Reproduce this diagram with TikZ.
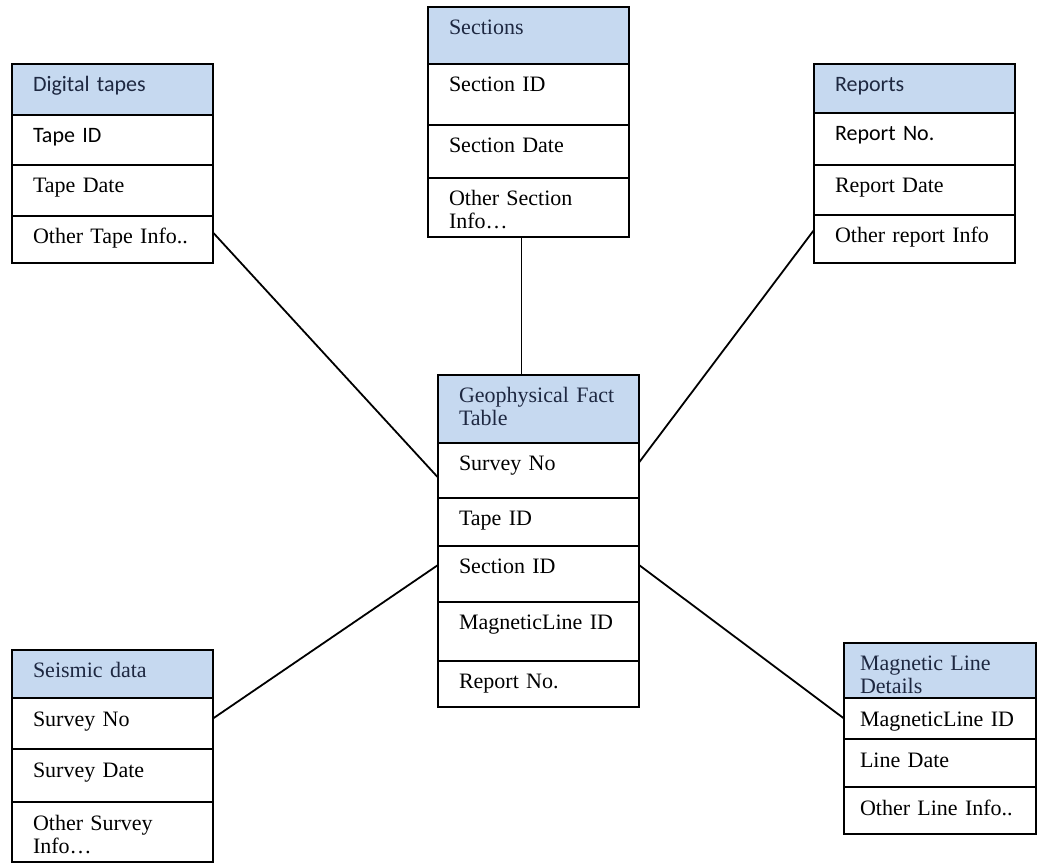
\documentclass[tikz,border=0pt]{standalone}
\usepackage{fontspec}
\setmainfont{Liberation Serif}
\newfontfamily\calib{Carlito}
\usetikzlibrary{positioning,calc}
\definecolor{cHead}{RGB}{198,217,240}
\definecolor{cHeadTxt}{RGB}{30,40,65}

\begin{document}
\begin{tikzpicture}[x=0.5pt,y=-0.5pt,
   node distance=0pt,
   cell/.style={draw,line width=0.9pt,outer sep=0pt,anchor=north west,inner xsep=10.5pt,inner ysep=0pt,
     text width=79.5pt,align=left,text height=14pt,font=\fontsize{11}{11.5}\selectfont},
   head/.style={cell,fill=cHead,text=cHeadTxt},
   sans/.style={font=\fontsize{11}{11.5}\calib},
   narrow/.style={inner xsep=8pt,text width=80pt},
   link/.style={line width=0.9pt}]
  \useasboundingbox (0,0) rectangle (1039,865);
  % digital tapes
  \node[head,sans,text depth=11.5pt] (dt0) at (12,64) {Digital tapes};
  \node[cell,sans,text depth=11pt,below=of dt0] (dt1) {Tape ID};
  \node[cell,text depth=11.5pt,below=of dt1] (dt2) {Tape Date};
  \node[cell,text depth=9.5pt,below=of dt2] (dt3) {Other Tape Info..};
  % sections
  \node[head,text depth=14.5pt] (s0) at (428,7) {Sections};
  \node[cell,text depth=16.5pt,below=of s0] (s1) {Section ID};
  \node[cell,text depth=12.5pt,below=of s1] (s2) {Section Date};
  \node[cell,text depth=15.5pt,below=of s2] (s3) {Other Section\\Info\ldots};
  % reports
  \node[head,sans,text depth=10.5pt] (r0) at (814,64) {Reports};
  \node[cell,sans,text depth=12pt,below=of r0] (r1) {Report No.};
  \node[cell,text depth=11pt,below=of r1] (r2) {Report Date};
  \node[cell,text depth=10pt,below=of r2] (r3) {Other report Info};
  % fact table
  \node[head,text depth=20pt] (f0) at (438,375) {Geophysical Fact\\Table};
  \node[cell,text depth=13.5pt,below=of f0] (f1) {Survey No};
  \node[cell,text depth=10pt,below=of f1] (f2) {Tape ID};
  \node[cell,text depth=14pt,below=of f2] (f3) {Section ID};
  \node[cell,text depth=15.5pt,below=of f3] (f4) {MagneticLine ID};
  \node[cell,text depth=9pt,below=of f4] (f5) {Report No.};
  % seismic data
  \node[head,text depth=10pt] (sd0) at (12,650) {Seismic data};
  \node[cell,text depth=11.5pt,below=of sd0] (sd1) {Survey No};
  \node[cell,text depth=12.5pt,below=of sd1] (sd2) {Survey Date};
  \node[cell,text depth=16pt,below=of sd2] (sd3) {Other Survey\\Info\ldots};
  % magnetic line details
  \node[head,narrow,text depth=13.5pt] (m0) at (844,643) {Magnetic Line\\Details};
  \node[cell,narrow,text depth=6.5pt,below=of m0] (m1) {MagneticLine ID};
  \node[cell,narrow,text depth=10pt,below=of m1] (m2) {Line Date};
  \node[cell,narrow,text depth=9.5pt,below=of m2] (m3) {Other Line Info..};
  % links
  \draw[link] ([yshift=3.5pt]dt3.east) -- ([yshift=-3.5pt]f1.west);
  \draw[link] ([xshift=-3.5pt]s3.south) -- ([xshift=-3.5pt]s3.south |- f0.north);
  \draw[link] ([yshift=4.5pt]r3.west) -- ([yshift=4pt]f1.east);
  \draw[link] ([yshift=2.5pt]sd1.east) -- ([yshift=4.5pt]f3.west);
  \draw[link] (m1.west) -- ([yshift=4.5pt]f3.east);
\end{tikzpicture}
\end{document}
